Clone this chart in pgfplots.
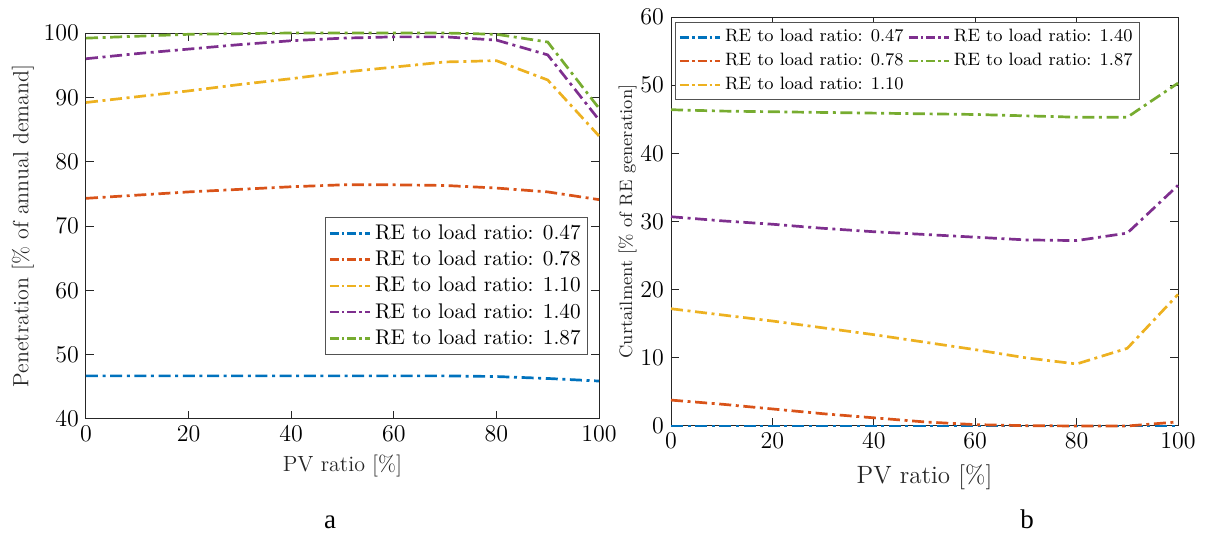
\documentclass[border=0pt]{standalone}
\usepackage{pgfplots}
\pgfplotsset{compat=1.18}
\usepackage{fontspec}
\newfontfamily\timesfont{Liberation Serif}
\definecolor{mblue}{rgb}{0,0.447,0.741}
\definecolor{morange}{rgb}{0.85,0.325,0.098}
\definecolor{myellow}{rgb}{0.929,0.694,0.125}
\definecolor{mpurple}{rgb}{0.494,0.184,0.556}
\definecolor{mgreen}{rgb}{0.466,0.674,0.188}
\definecolor{axgray}{rgb}{0.15,0.15,0.15}
\pgfplotsset{
  mstyle/.style={
    scale only axis,
    xmin=0, xmax=100,
    xtick={0,20,40,60,80,100},
    tick align=inside,
    clip=false,
    axis line style={axgray, line width=0.5pt},
    every tick/.style={axgray, line width=0.5pt},
    major tick length=4pt,
    tick label style={black},
    legend cell align=left,
    legend style={draw=axgray!80, line width=0.6pt, inner sep=1.5pt, fill=white},
    legend image code/.code={\draw[#1, line width=1.3pt, dash pattern=on 4.5pt off 1.5pt on 1.3pt off 1.5pt] (0cm,0cm) -- (0.7cm,0cm);},
    every axis plot/.append style={line width=1.35pt, dash pattern=on 6pt off 2.3pt on 1.5pt off 2.3pt, no markers},
  }
}
\begin{document}
\begin{tikzpicture}
\path[use as bounding box] (0,0) rectangle (602.5pt,267.5pt);
% ---------------- left
\begin{axis}[mstyle,
  at={(43pt,58pt)}, anchor=south west,
  width=256.5pt, height=193pt,
  ymin=40, ymax=100, ytick={40,50,...,100},
  tick label style={font=\fontsize{12.5}{14}\selectfont},
  xlabel={PV ratio [\%]}, ylabel={Penetration [\% of annual demand]},
  label style={font=\fontsize{11}{13}\selectfont, text=axgray},
  ylabel style={yshift=-2pt},
  xlabel style={yshift=0pt},
  legend style={at={(0.979,0.166)}, anchor=south east,
    font=\fontsize{10.6}{12}\selectfont, row sep=0.3pt},
]
\addplot[mblue] coordinates {(0,46.7)(10,46.7)(20,46.7)(30,46.7)(40,46.7)(50,46.7)(60,46.7)(70,46.7)(80,46.6)(90,46.3)(100,45.9)};
\addlegendentry{RE to load ratio: 0.47}
\addplot[morange] coordinates {(0,74.3)(10,74.8)(20,75.3)(30,75.7)(40,76.1)(50,76.4)(60,76.4)(70,76.3)(80,75.9)(90,75.3)(100,74.1)};
\addlegendentry{RE to load ratio: 0.78}
\addplot[myellow] coordinates {(0,89.2)(10,90.1)(20,91.0)(30,92.0)(40,92.9)(50,93.9)(60,94.7)(70,95.5)(80,95.7)(90,92.7)(100,84.0)};
\addlegendentry{RE to load ratio: 1.10}
\addplot[mpurple] coordinates {(0,96.0)(10,96.8)(20,97.5)(30,98.2)(40,98.8)(50,99.2)(60,99.4)(70,99.4)(80,98.9)(90,96.6)(100,86.5)};
\addlegendentry{RE to load ratio: 1.40}
\addplot[mgreen] coordinates {(0,99.2)(10,99.5)(20,99.8)(30,99.9)(40,100)(50,100)(60,100)(70,100)(80,99.8)(90,98.6)(100,88.3)};
\addlegendentry{RE to load ratio: 1.87}
\end{axis}
% ---------------- right
\begin{axis}[mstyle,
  at={(335.5pt,54.5pt)}, anchor=south west,
  width=253.5pt, height=204.5pt,
  ymin=0, ymax=60, ytick={0,10,...,60},
  tick label style={font=\fontsize{12}{14}\selectfont},
  xlabel={PV ratio [\%]}, ylabel={Curtailment [\% of RE generation]},
  xlabel style={font=\fontsize{12.5}{14}\selectfont, text=axgray, yshift=-1pt},
  ylabel style={font=\fontsize{9}{11}\selectfont, text=axgray, yshift=-5pt},
  legend columns=2,
  legend style={at={(0.008,0.988)}, anchor=north west,
    font=\fontsize{8.95}{10}\selectfont, row sep=0.2pt,
    /tikz/every even column/.append style={column sep=0pt}},
]
\addplot[mblue] coordinates {(0,0)(10,0)(20,0)(30,0)(40,0)(50,0)(60,0)(70,0)(80,0)(90,0)(100,0)};
\addlegendentry{RE to load ratio: 0.47}
\addplot[mpurple] coordinates {(0,30.7)(10,30.1)(20,29.6)(30,29.0)(40,28.5)(50,28.1)(60,27.7)(70,27.3)(80,27.2)(90,28.3)(100,35.3)};
\addlegendentry{RE to load ratio: 1.40}
\addplot[morange] coordinates {(0,3.8)(10,3.2)(20,2.5)(30,1.8)(40,1.2)(50,0.6)(60,0.2)(70,0.05)(80,0)(90,0)(100,0.6)};
\addlegendentry{RE to load ratio: 0.78}
\addplot[mgreen] coordinates {(0,46.4)(10,46.2)(20,46.1)(30,46.0)(40,45.9)(50,45.8)(60,45.7)(70,45.5)(80,45.3)(90,45.3)(100,50.3)};
\addlegendentry{RE to load ratio: 1.87}
\addplot[myellow] coordinates {(0,17.2)(10,16.3)(20,15.4)(30,14.4)(40,13.4)(50,12.3)(60,11.2)(70,10.0)(80,9.1)(90,11.4)(100,19.3)};
\addlegendentry{RE to load ratio: 1.10}
\end{axis}
\node[font=\timesfont\fontsize{13.5}{15}\selectfont, anchor=base] at (165pt,3pt) {a};
\node[font=\timesfont\fontsize{13.5}{15}\selectfont, anchor=base] at (513.5pt,3pt) {b};
\end{tikzpicture}
\end{document}
